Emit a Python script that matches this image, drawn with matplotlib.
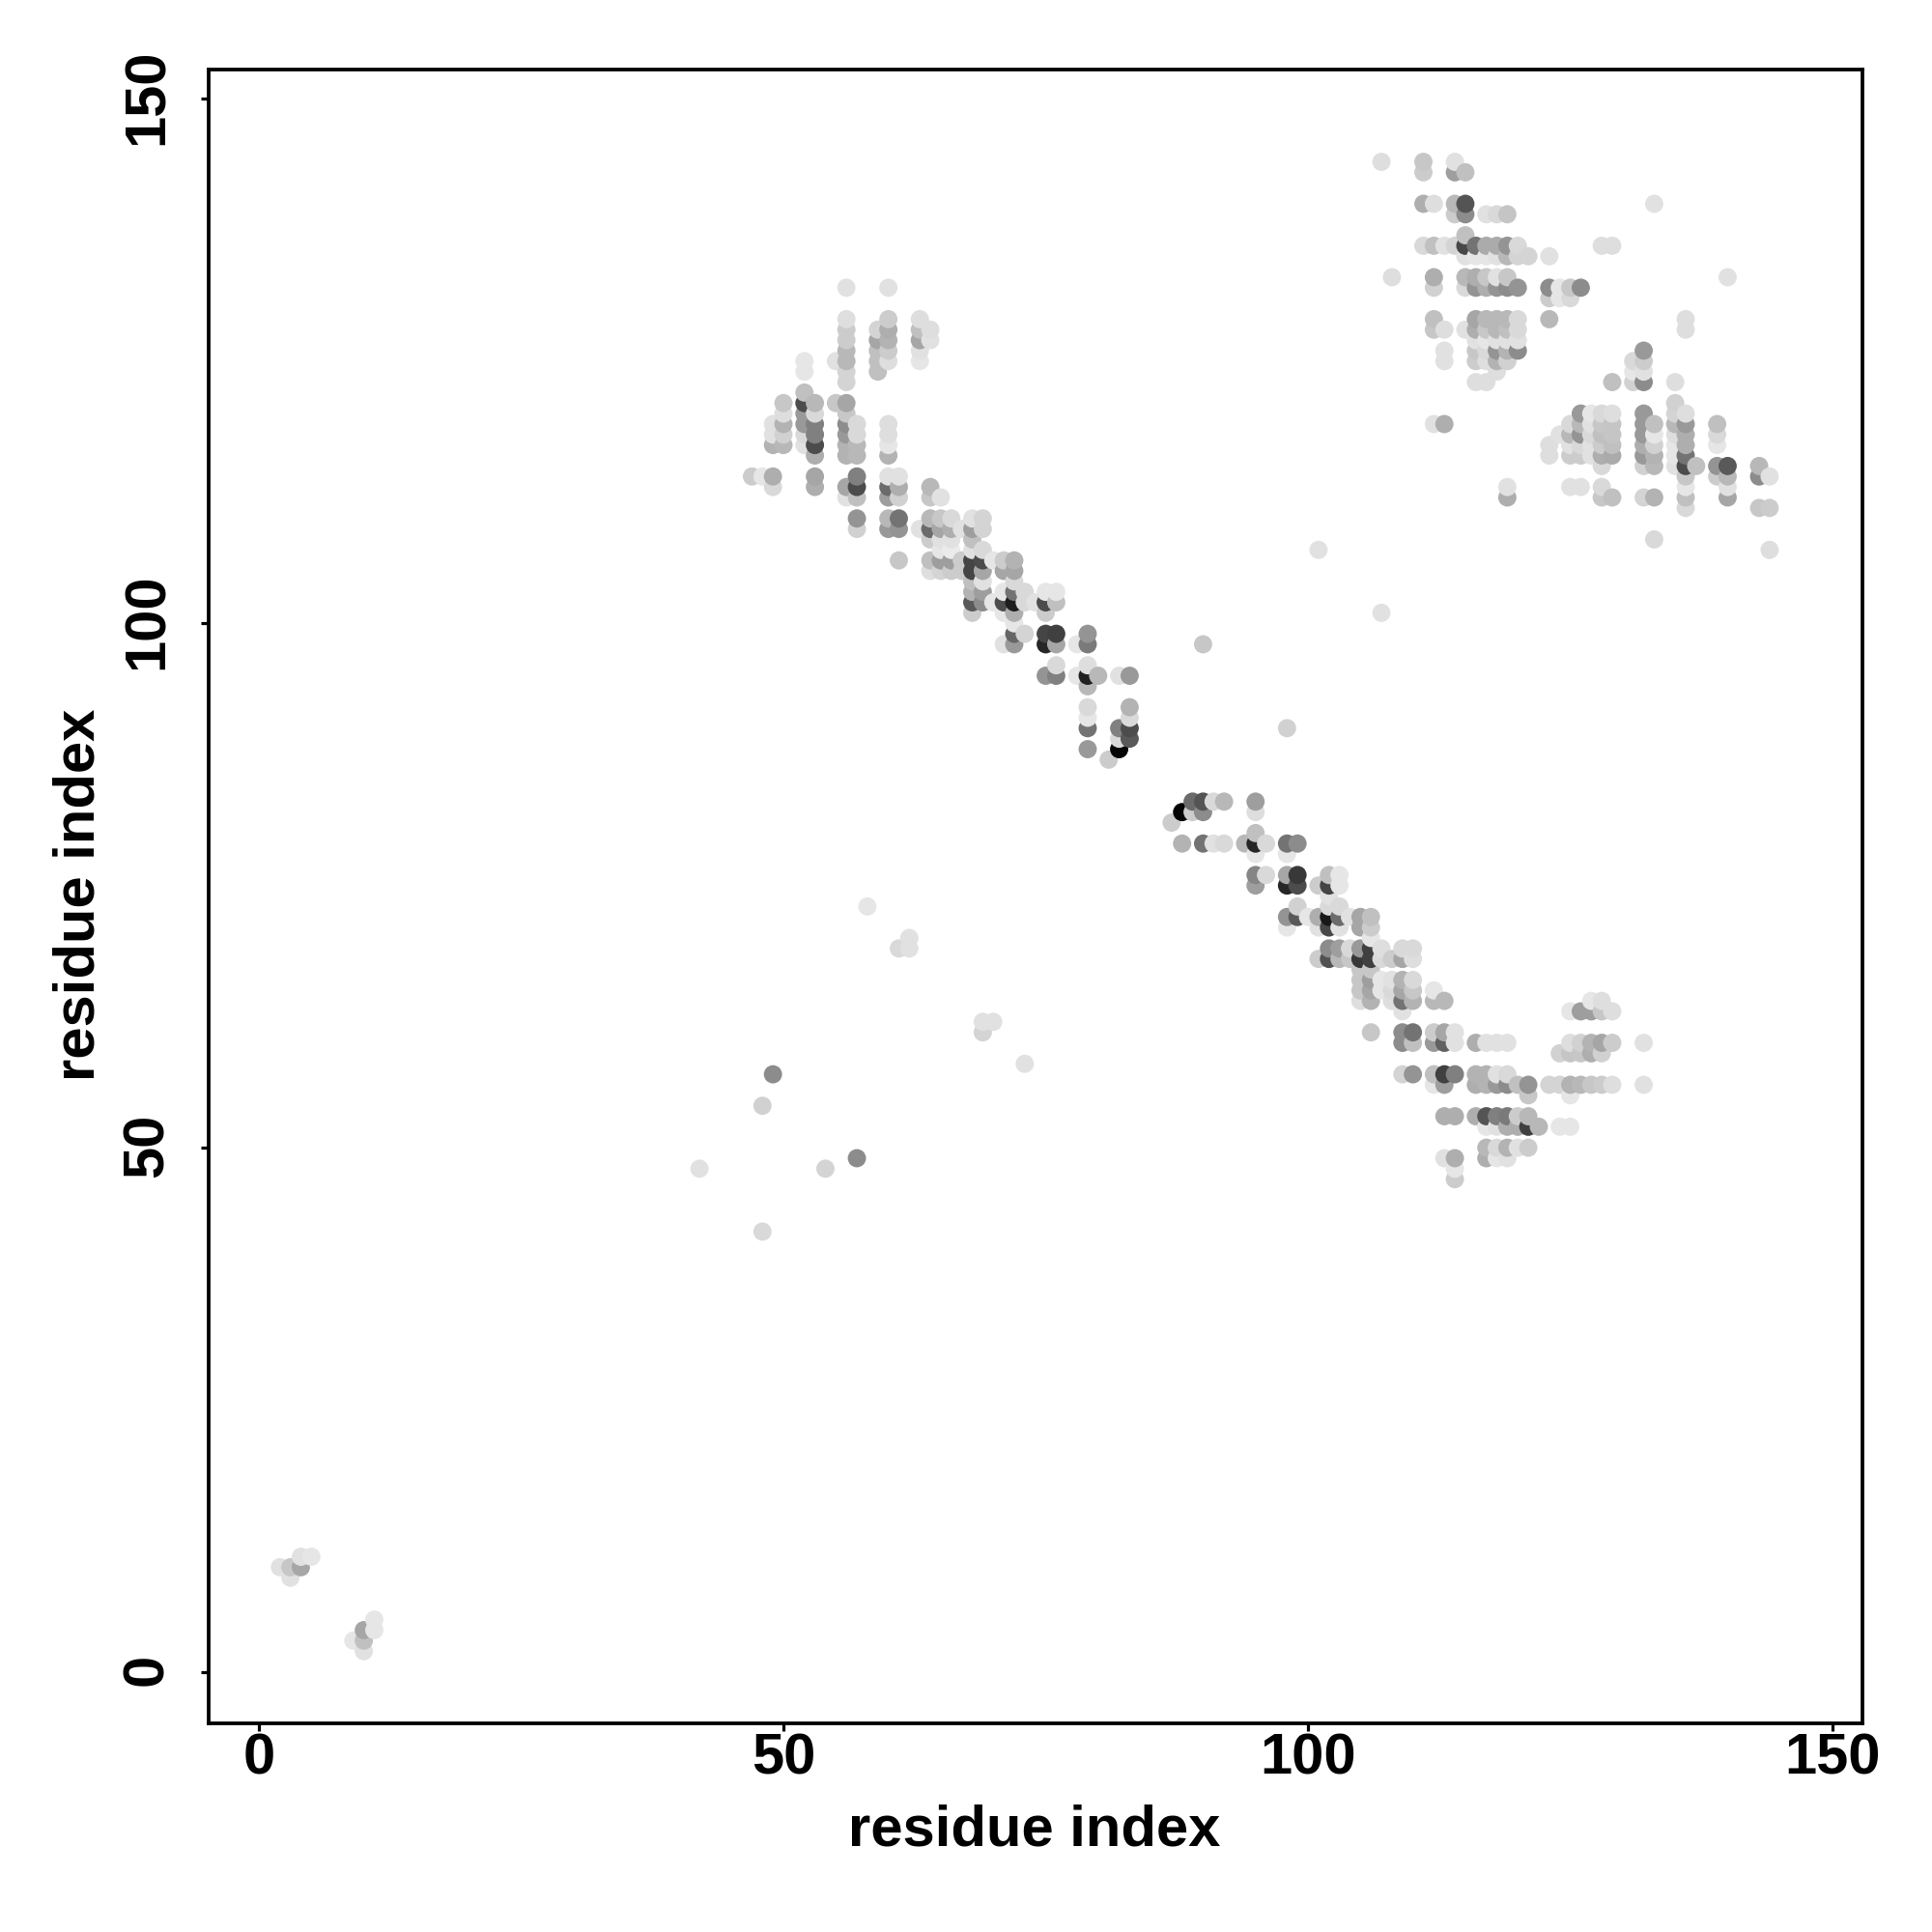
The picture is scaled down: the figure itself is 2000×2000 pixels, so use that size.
from matplotlib import pyplot as plt
from matplotlib.transforms import ScaledTranslation
import numpy as np

plt.rcParams['font.family'] = ['Liberation Sans', 'DejaVu Sans']

# contacts, one entry per residue column (drawn left to right, bottom to top)
res_x = [2, 3, 4, 5, 9, 10, 11, 42, 47, 48,
         49, 50, 52, 53, 54, 55, 56, 57, 58, 59,
         60, 61, 62, 63, 64, 65, 66, 67, 68, 69,
         70, 71, 72, 73, 74, 75, 76, 78, 79, 80,
         81, 82, 83, 87, 88, 89, 90, 91, 92, 94,
         95, 96, 98, 99, 100, 101, 102, 103, 104, 105,
         106, 107, 108, 109, 110, 111, 112, 113, 114, 115,
         116, 117, 118, 119, 120, 121, 122, 123, 124, 125,
         126, 127, 128, 129, 131, 132, 133, 135, 136, 137,
         139, 140, 143, 144]

res_y = [
    [10], [9, 10], [10, 11], [11], [3], [2, 3, 4], [4, 5], [48], [114], [42, 54, 114],
    [57, 113, 114, 117, 118, 119], [117, 118, 119, 120, 121], [117, 118, 119, 120, 121, 122, 124, 125],
    [113, 114, 116, 117, 118, 119, 120, 121], [48], [121, 125],
    [112, 113, 116, 117, 118, 119, 120, 121, 123, 124, 125, 126, 127, 128, 129, 132],
    [49, 109, 110, 112, 113, 114, 116, 117, 118, 119], [73], [124, 125, 126, 127, 128],
    [109, 110, 112, 113, 114, 116, 117, 118, 119, 125, 126, 127, 128, 129, 132],
    [69, 106, 109, 110, 112, 113, 114], [69, 70], [109, 125, 126, 127, 128, 129],
    [105, 106, 108, 109, 110, 112, 113, 127, 128], [105, 106, 107, 108, 109, 110, 112],
    [105, 106, 107, 108, 109, 110], [105, 106, 109],
    [101, 102, 103, 104, 105, 106, 107, 108, 109, 110],
    [61, 62, 102, 103, 104, 105, 106, 107, 109, 110],
    [62, 102, 106], [98, 101, 102, 103, 105, 106], [98, 99, 100, 101, 102, 103, 104, 105, 106],
    [58, 99, 102, 103], [102], [95, 98, 99, 101, 102, 103], [95, 96, 98, 99, 102, 103], [95, 98],
    [88, 90, 91, 92, 94, 95, 96, 98, 99], [95],
    [87], [88, 89, 90, 95], [89, 90, 91, 92, 95], [81], [79, 82], [82, 83], [79, 82, 83, 98],
    [79, 83], [79, 83], [79],
    [75, 76, 78, 79, 80, 82, 83], [76, 79], [71, 72, 75, 76, 78, 79, 90], [72, 73, 75, 76, 79], [72],
    [68, 71, 72, 75, 107], [68, 69, 71, 72, 73, 74, 75, 76], [68, 69, 71, 72, 73, 75, 76],
    [68, 69, 72], [64, 65, 66, 67, 68, 69, 71, 72],
    [61, 64, 65, 66, 67, 68, 69, 70, 71, 72], [65, 66, 68, 69, 101, 144], [64, 65, 66, 68, 133],
    [57, 61, 60, 63, 64, 65, 66, 68, 69], [57, 60, 61, 64, 65, 66, 68, 69], [136, 140, 143, 144],
    [56, 57, 60, 61, 64, 65, 119, 128, 129, 132, 133, 136, 140],
    [49, 53, 56, 57, 60, 61, 64, 119, 125, 126, 128, 136],
    [47, 48, 49, 53, 57, 60, 61, 136, 139, 140, 143, 144],
    [128, 132, 133, 135, 136, 137, 139, 140, 143],
    [53, 56, 57, 60, 123, 125, 126, 127, 128, 129, 132, 133, 135, 136],
    [49, 50, 52, 53, 56, 57, 60, 123, 125, 126, 127, 128, 129, 132, 133, 135, 136, 139],
    [49, 50, 52, 53, 56, 57, 60, 124, 125, 126, 127, 128, 129, 132, 133, 135, 136, 139],
    [49, 50, 52, 53, 56, 57, 60, 112, 113, 125, 126, 127, 128, 129, 132, 133, 135, 136, 139],
    [50, 52, 53, 56, 126, 127, 128, 129, 132, 135, 136],
    [50, 52, 53, 55, 56, 135], [52], [56, 116, 117, 129, 131, 132, 135],
    [52, 56, 59, 118, 131, 132],
    [52, 55, 56, 59, 60, 63, 113, 116, 117, 118, 119, 131, 132],
    [56, 59, 60, 63, 113, 116, 117, 118, 119, 120, 132],
    [56, 59, 60, 63, 64, 116, 117, 118, 119, 120],
    [56, 59, 60, 63, 64, 112, 113, 115, 116, 117, 118, 119, 120, 136],
    [56, 60, 63, 112, 116, 117, 118, 119, 120, 123, 136],
    [123, 124, 125],
    [56, 60, 112, 115, 116, 117, 118, 119, 120, 123, 124, 125, 126],
    [108, 112, 115, 116, 117, 118, 119, 140],
    [115, 116, 117, 118, 119, 120, 121, 123],
    [111, 112, 113, 114, 115, 116, 117, 118, 119, 120, 128, 129],
    [115],
    [114, 115, 117, 118, 119], [112, 113, 114, 115, 133], [111, 114, 115], [107, 111, 114],
]

res_gray = [
    [.88], [.88, .78], [.65, .88], [.9], [.9], [.88, .75, .65], [.9, .9], [.88], [.8], [.85, .82, .9],
    [.55, .85, .68, .7, .88, .88], [.72, .82, .7, .87, .78], [.88, .85, .6, .6, .3, .75, .9, .9],
    [.68, .65, .68, .3, .5, .5, .85, .72], [.83], [.78, .88],
    [.88, .65, .7, .7, .6, .55, .78, .65, .83, .83, .72, .72, .8, .8, .87, .88],
    [.55, .82, .58, .75, .3, .5, .72, .72, .85, .85], [.9], [.75, .75, .75, .65, .83],
    [.6, .72, .62, .42, .88, .7, .9, .87, .87, .87, .8, .7, .68, .8, .88],
    [.85, .78, .58, .45, .82, .68, .88], [.88, .88], [.88, .9, .88, .65, .75, .87],
    [.87, .75, .8, .42, .72, .78, .72, .88, .87], [.83, .62, .9, .88, .65, .78, .88],
    [.8, .62, .92, .88, .68, .85], [.8, .8, .88],
    [.8, .35, .7, .75, .27, .27, .88, .75, .62, .88],
    [.83, .88, .55, .62, .88, .65, .3, .85, .83, .83],
    [.88, .9, .9], [.88, .9, .3, .9, .65, .8], [.6, .4, .9, .68, .12, .45, .85, .65, .7],
    [.88, .83, .85, .85], [.88], [.58, .15, .27, .8, .3, .9], [.5, .85, .65, .25, .75, .9], [.9, .9],
    [.6, .45, .9, .85, .72, .13, .87, .48, .58], [.72],
    [.8], [.02, .85, .5, .88], [.35, .3, .85, .7, .6], [.8], [.7, .02], [.8, .42], [.45, .55, .33, .78],
    [.88, .85], [.85, .72], [.72],
    [.62, .52, .9, .15, .75, .87, .62], [.85, .85], [.9, .58, .15, .65, .9, .45, .82],
    [.35, .82, .3, .22, .55], [.9],
    [.8, .88, .68, .8, .88], [.32, .55, .28, .1, .85, .88, .27, .75], [.72, .62, .88, .42, .85, .9, .9],
    [.78, .85, .88], [.87, .78, .78, .78, .22, .6, .65, .65],
    [.78, .7, .65, .62, .78, .25, .25, .9, .8, .75], [.9, .9, .85, .87, .88, .87], [.87, .85, .88, .8, .87],
    [.83, .55, .55, .88, .45, .65, .7, .65, .85], [.58, .75, .45, .7, .78, .85, .87, .85], [.85, .68, .8, .78],
    [.9, .75, .6, .8, .72, .9, .88, .78, .75, .82, .68, .75, .87],
    [.88, .68, .62, .25, .38, .65, .72, .68, .88, .88, .87, .88],
    [.8, .9, .68, .68, .5, .88, .88, .83, .8, .72, .62, .88],
    [.88, .85, .72, .88, .28, .75, .55, .33, .75],
    [.68, .68, .7, .68, .87, .8, .78, .88, .68, .65, .58, .68, .9, .45],
    [.68, .72, .9, .33, .7, .7, .88, .87, .87, .85, .9, .78, .72, .68, .78, .9, .67, .88],
    [.9, .85, .88, .5, .6, .88, .88, .87, .7, .58, .88, .72, .72, .58, .88, .88, .67, .85],
    [.88, .7, .68, .48, .55, .85, .88, .68, .88, .82, .7, .88, .75, .72, .55, .78, .72, .58, .77],
    [.88, .68, .8, .75, .55, .88, .85, .85, .58, .83, .85],
    [.8, .25, .72, .78, .58, .83], [.72], [.83, .87, .87, .72, .8, .55, .88],
    [.9, .83, .82, .88, .9, .9],
    [.9, .9, .7, .77, .87, .9, .88, .8, .88, .72, .85, .85, .78],
    [.72, .78, .82, .62, .88, .8, .85, .58, .72, .6, .55],
    [.78, .68, .7, .62, .9, .88, .88, .85, .88, .9],
    [.8, .82, .65, .78, .87, .78, .85, .85, .68, .8, .75, .78, .85, .87],
    [.87, .8, .87, .75, .67, .75, .77, .77, .87, .75, .87],
    [.82, .9, .85],
    [.88, .88, .83, .82, .6, .68, .6, .6, .6, .55, .88, .8, .6],
    [.85, .7, .72, .7, .82, .9, .75, .88],
    [.88, .9, .9, .87, .72, .83, .82, .87],
    [.85, .75, .9, .78, .3, .45, .68, .68, .6, .87, .87, .87],
    [.75],
    [.8, .58, .9, .85, .75], [.65, .88, .72, .35, .88], [.78, .55, .72], [.87, .8, .88],
]

xticks = [0, 50, 100, 150]
yticks = [0, 50, 100, 150]

xs, ys, grays = [], [], []
for col, rows, shades in zip(res_x, res_y, res_gray):
    # each residue column sorted by row so higher rows paint on top
    for r, g in sorted(zip(rows, shades)):
        xs.append(col)
        ys.append(r)
        grays.append(g)

fig = plt.figure(figsize=(20, 20), dpi=100)
ax = fig.add_axes([216 / 2000, 1 - 1783.5 / 2000, (1928 - 216) / 2000, (1783.5 - 72) / 2000])

ax.scatter(xs, ys, c=np.array(grays), cmap='gray', vmin=0, vmax=1, s=185, linewidths=0, zorder=3)

ax.set_xlim(-4.79, 152.85)
ax.set_ylim(-4.84, 152.8)

for side in ax.spines.values():
    side.set_linewidth(2.7)

ax.set_xticks(xticks)
ax.set_yticks(yticks)
ax.tick_params(axis='both', length=5.5, width=2.3, labelsize=43)
ax.tick_params(axis='x', pad=2)
ax.tick_params(axis='y', pad=20)
nudge = ScaledTranslation(0, 2.5 / 100, fig.dpi_scale_trans)
for lab in ax.get_xticklabels() + ax.get_yticklabels():
    lab.set_fontweight('bold')
for lab in ax.get_yticklabels():
    lab.set_rotation(90)
    lab.set_va('center')
    lab.set_transform(lab.get_transform() + nudge)

fig.text(1071 / 2000, 1 - 1895 / 2000, 'residue index', fontsize=43, fontweight='bold', ha='center', va='center')
fig.text(82 / 2000, 1 - 926 / 2000, 'residue index', fontsize=43, fontweight='bold', rotation=90, ha='center', va='center')

plt.savefig('out.png', dpi=100)
